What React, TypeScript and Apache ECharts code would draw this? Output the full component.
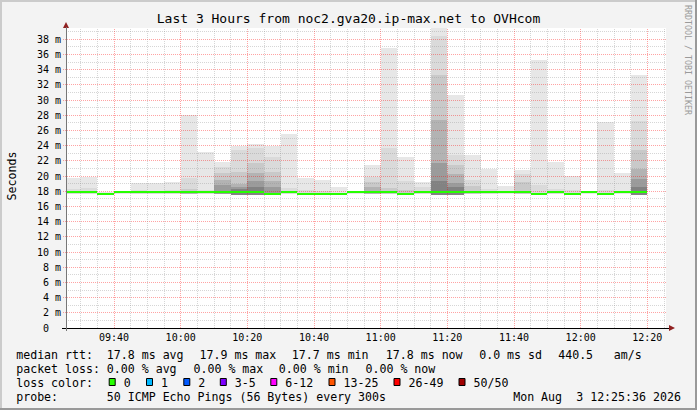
import React, { useEffect, useRef } from 'react';
import * as echarts from 'echarts';

const MONO = 'DejaVu Sans Mono';

const chartTitle = 'Last 3 Hours from noc2.gva20.ip-max.net to OVHcom';
const yAxisName = 'Seconds';
const watermark = 'RRDTOOL / TOBI OETIKER';

const rangeStart = '09:25:36';
const rangeEnd = '12:25:36';
const stepMinutes = 5;
const yMax = 39.5;

const intervalStarts = [
  '09:25', '09:30', '09:35', '09:40', '09:45', '09:50', '09:55',
  '10:00', '10:05', '10:10', '10:15', '10:20', '10:25', '10:30', '10:35', '10:40', '10:45', '10:50', '10:55',
  '11:00', '11:05', '11:10', '11:15', '11:20', '11:25', '11:30', '11:35', '11:40', '11:45', '11:50', '11:55',
  '12:00', '12:05', '12:10', '12:15',
];

const medianRtt = [
  17.85, 17.85, 17.7, 17.85, 17.85, 17.85, 17.85,
  17.85, 17.85, 17.85, 17.9, 17.85, 17.7, 17.85, 17.7, 17.7, 17.7, 17.85, 17.85,
  17.85, 17.7, 17.85, 17.85, 17.85, 17.85, 17.85, 17.85, 17.85, 17.7, 17.85, 17.7,
  17.85, 17.7, 17.85, 17.85,
];

const smokeMin = [
  17.7, 17.7, 17.6, 17.7, 17.7, 17.7, 17.7,
  17.7, 17.7, 17.6, 17.5, 17.5, 17.5, 17.7, 17.6, 17.6, 17.6, 17.7, 17.7,
  17.7, 17.6, 17.7, 17.5, 17.5, 17.7, 17.7, 17.7, 17.7, 17.6, 17.7, 17.6,
  17.7, 17.6, 17.7, 17.5,
];

const smokeMax = [
  19.7, 19.9, 17.9, 18.0, 19.1, 19.1, 19.2,
  28.0, 23.2, 21.8, 23.9, 24.2, 23.9, 25.5, 19.8, 19.5, 18.6, 17.9, 21.4,
  36.9, 22.5, 19.2, 40.5, 30.7, 22.8, 21.0, 18.7, 20.8, 35.3, 21.9, 20.0,
  17.9, 27.1, 20.4, 33.3,
];

const smokeL1 = [
  18.3, 18.4, null, null, 18.2, 18.1, 18.2,
  19.7, 18.2, 21.2, 23.5, 23.7, 22.5, 18.4, 18.2, 18.1, null, null, 19.9,
  23.7, 19.3, 18.5, 38.4, 22.8, 19.5, 18.3, null, 20.3, 18.8, 18.3, 18.2,
  null, 18.2, null, 27.2,
];

const smokeL2 = [
  null, null, null, null, null, null, null,
  18.3, null, 20.4, 20.5, 21.7, 20.5, null, null, null, null, null, 19.2,
  18.4, 18.2, null, 33.3, 21.5, 18.7, null, null, 19.2, null, null, null,
  null, null, null, 23.4,
];

const smokeL3 = [
  null, null, null, null, null, null, null,
  18.1, null, 19.5, 19.0, 20.4, 19.3, null, null, null, null, null, 18.5,
  null, null, null, 27.4, 20.3, null, null, null, null, null, null, null,
  null, null, null, 21.0,
];

const smokeL4 = [
  null, null, null, null, null, null, null,
  null, null, 18.8, 18.6, 19.3, 18.6, null, null, null, null, null, null,
  null, null, null, 21.7, 19.1, null, null, null, null, null, null, null,
  null, null, null, 19.6,
];

const smokeL5 = [
  null, null, null, null, null, null, null,
  null, null, null, 18.3, 18.6, null, null, null, null, null, null, null,
  null, null, null, 19.3, 18.5, null, null, null, null, null, null, null,
  null, null, null, 18.6,
];

const yTickValues = [0, 2, 4, 6, 8, 10, 12, 14, 16, 18, 20, 22, 24, 26, 28, 30, 32, 34, 36, 38];
const xTickLabels = ['09:40', '10:00', '10:20', '10:40', '11:00', '11:20', '11:40', '12:00', '12:20'];

const medianLegend = ['median rtt:', '17.8 ms avg', '17.9 ms max', '17.7 ms min', '17.8 ms now', '0.0 ms sd', '440.5', 'am/s'];
const lossLegend = ['packet loss:', '0.00 % avg', '0.00 % max', '0.00 % min', '0.00 % now'];
const lossTitle = 'loss color:';
const lossLabels = ['0', '1', '2', '3-5', '6-12', '13-25', '26-49', '50/50'];
const lossColors = ['#26ff00', '#00b8ff', '#0059ff', '#7e00ff', '#ff00ff', '#ff5500', '#ff0000', '#a00000'];
const probeLegend = ['probe:', '50 ICMP Echo Pings (56 Bytes) every 300s', 'Mon Aug', '3 12:25:36 2026'];

// layout (pixels)
const W = 697;
const H = 410;
const GRID = { left: 66, top: 28, width: 600, height: 300 };
const medianX = [16.2, 106.8, 199.5, 291.8, 385.8, 479.2, 558.2, 613.8];
const lossX = [16.2, 106.8, 193.5, 278.8, 365.5];
const swatchX = [108.7, 146, 183.3, 219.8, 270.3, 328.5, 393.5, 458.5];
const probeX = [16.2, 106.8, 513.2, 576.2];
const rowY = [354.5, 368.5, 382.5, 396.7];

const smokeShades = ['#e7e7e7', '#dadada', '#c9c9c9', '#b3b3b3', '#9b9b9b', '#828282'];
const LEGEND_FONT = 11.6;

function toMin(s: string): number {
  const p = s.split(':').map(Number);
  return p[0] * 60 + p[1] + (p[2] || 0) / 60;
}

const X_MIN = toMin(rangeStart);
const X_MAX = toMin(rangeEnd);

const dash = (v: number | null) => (v == null ? '-' : v);

function buildOption(): any {
  const smokeData = intervalStarts.map((t, i) => [
    toMin(t), toMin(t) + stepMinutes, smokeMin[i],
    dash(smokeMax[i]), dash(smokeL1[i]), dash(smokeL2[i]), dash(smokeL3[i]), dash(smokeL4[i]), dash(smokeL5[i]),
  ]);
  const medianData = intervalStarts.map((t, i) => [toMin(t), toMin(t) + stepMinutes, medianRtt[i]]);

  const gridLines: number[][] = [];
  for (let v = 1; v < yMax; v += 1) gridLines.push([0, v, v % 2 === 0 ? 1 : 0]);
  for (let t = Math.ceil(X_MIN / stepMinutes) * stepMinutes; t <= X_MAX; t += stepMinutes) {
    gridLines.push([1, t, t % 20 === 0 ? 1 : 0]);
  }

  const xTickValues = xTickLabels.map(toMin);

  const text = (t: string, x: number, y: number, extra: any = {}) => ({
    type: 'text', x, y, silent: true,
    style: {
      text: t, fill: '#000', fontFamily: MONO, fontSize: LEGEND_FONT,
      textAlign: 'left', textVerticalAlign: 'middle', ...extra,
    },
  });

  const graphics: any[] = [];
  // frame
  graphics.push({ type: 'rect', shape: { x: 0, y: 0, width: W, height: 2 }, style: { fill: '#cbcbcb' }, silent: true });
  graphics.push({ type: 'rect', shape: { x: 0, y: 0, width: 2, height: H }, style: { fill: '#cbcbcb' }, silent: true });
  graphics.push({ type: 'rect', shape: { x: W - 2, y: 0, width: 2, height: H }, style: { fill: '#999999' }, silent: true });
  graphics.push({ type: 'rect', shape: { x: 0, y: H - 2, width: W, height: 2 }, style: { fill: '#999999' }, silent: true });
  // title
  graphics.push(text(chartTitle, 348.5, 18.5, { fontSize: 13, textAlign: 'center' }));
  // y name
  graphics.push({ ...text(yAxisName, 11.5, 176, { textAlign: 'center' }), rotation: Math.PI / 2 });
  // watermark
  graphics.push({ ...text(watermark, 688, 60, { textAlign: 'center', fontSize: 8.3, fill: '#9a9a9a' }), rotation: -Math.PI / 2 });
  // arrows
  const ax = GRID.left;
  const ay = GRID.top + GRID.height;
  graphics.push({ type: 'polygon', shape: { points: [[ax - 3, GRID.top], [ax + 3, GRID.top], [ax, GRID.top - 6]] }, style: { fill: '#902020' }, silent: true });
  const rx = GRID.left + GRID.width + 3;
  graphics.push({ type: 'polygon', shape: { points: [[rx, ay - 3], [rx, ay + 3], [rx + 6, ay]] }, style: { fill: '#902020' }, silent: true });
  graphics.push({ type: 'line', shape: { x1: ax - 4, y1: ay + 0.5, x2: rx, y2: ay + 0.5 }, style: { stroke: '#000', lineWidth: 1 }, silent: true, z: 20 });
  graphics.push({ type: 'line', shape: { x1: ax + 0.5, y1: GRID.top - 1, x2: ax + 0.5, y2: ay + 3 }, style: { stroke: '#777', lineWidth: 1 }, silent: true, z: 20 });

  // legend
  medianLegend.forEach((t, i) => graphics.push(text(t, medianX[i], rowY[0])));
  lossLegend.forEach((t, i) => graphics.push(text(t, lossX[i], rowY[1])));
  graphics.push(text(lossTitle, 16.2, rowY[2]));
  lossLabels.forEach((t, i) => {
    graphics.push({ type: 'rect', shape: { x: swatchX[i] + 0.5, y: rowY[2] - 4, width: 6, height: 7 }, style: { fill: lossColors[i], stroke: '#000', lineWidth: 1 }, silent: true });
    graphics.push(text(t, swatchX[i] + 15, rowY[2]));
  });
  probeLegend.forEach((t, i) => graphics.push(text(t, probeX[i], rowY[3])));

  return {
    animation: false,
    backgroundColor: '#f3f3f3',
    grid: { ...GRID, show: true, backgroundColor: '#ffffff', borderWidth: 0, containLabel: false },
    xAxis: {
      type: 'value', min: X_MIN, max: X_MAX, z: 10,
      axisLine: { show: false },
      axisTick: { show: false },
      splitLine: { show: false },
      axisLabel: {
        customValues: xTickValues,
        formatter: (v: number) => {
          const k = xTickValues.findIndex((x) => Math.abs(x - v) < 1e-6);
          return k >= 0 ? xTickLabels[k] : '';
        },
        fontFamily: MONO, fontSize: 10, color: '#000', margin: 4,
      },
    },
    yAxis: {
      type: 'value', min: 0, max: yMax, z: 10,
      axisLine: { show: false },
      axisTick: { show: false },
      splitLine: { show: false },
      axisLabel: {
        customValues: yTickValues,
        formatter: (v: number) => (v === 0 ? '{z|0}' : `${v} m`),
        fontFamily: MONO, fontSize: 10, color: '#000', margin: 5,
        rich: { z: { fontFamily: MONO, fontSize: 10, color: '#000', padding: [0, 12, 0, 0] } },
      },
    },
    series: [
      {
        type: 'custom', coordinateSystem: 'cartesian2d', z: 2, silent: true,
        data: smokeData,
        renderItem: (_p: any, api: any) => {
          const s = Math.max(api.value(0), X_MIN);
          const e = Math.min(api.value(1), X_MAX);
          const lo = api.value(2);
          const children: any[] = [];
          for (let k = 0; k < 6; k++) {
            const top = api.value(3 + k);
            if (top == null || isNaN(top)) continue;
            const a = api.coord([s, Math.min(top, yMax)]);
            const b = api.coord([e, lo]);
            const x0 = Math.round(a[0]);
            const x1 = Math.round(b[0]);
            const y0 = Math.round(a[1]);
            const y1 = Math.round(b[1]);
            children.push({ type: 'rect', shape: { x: x0, y: y0, width: x1 - x0, height: y1 - y0 }, style: { fill: smokeShades[k] } });
          }
          return { type: 'group', children };
        },
      },
      {
        type: 'custom', coordinateSystem: 'cartesian2d', z: 3, silent: true,
        data: gridLines,
        renderItem: (_p: any, api: any) => {
          const o = api.value(0);
          const v = api.value(1);
          const major = api.value(2) === 1;
          const stroke = major ? 'rgba(255,0,0,0.36)' : 'rgba(143,143,143,0.37)';
          if (o === 0) {
            const a = api.coord([X_MIN, v]);
            const b = api.coord([X_MAX, v]);
            const y = Math.floor(a[1]) + 0.5;
            return { type: 'line', shape: { x1: Math.round(a[0]) - (major ? 3 : 0), y1: y, x2: Math.round(b[0]), y2: y }, style: { stroke, lineWidth: 1, lineDash: [1, 1] } };
          }
          const a = api.coord([v, 0]);
          const b = api.coord([v, yMax]);
          const x = Math.floor(a[0]) + 0.5;
          return { type: 'line', shape: { x1: x, y1: Math.round(a[1]), x2: x, y2: Math.round(b[1]) }, style: { stroke, lineWidth: 1, lineDash: [1, 1] } };
        },
      },
      {
        type: 'custom', coordinateSystem: 'cartesian2d', z: 4, silent: true,
        data: medianData,
        renderItem: (_p: any, api: any) => {
          const s = Math.max(api.value(0), X_MIN);
          const a = api.coord([s, api.value(2)]);
          const b = api.coord([api.value(1), api.value(2)]);
          const y = Math.round(a[1]);
          return { type: 'line', shape: { x1: Math.round(a[0]), y1: y, x2: Math.round(b[0]), y2: y }, style: { stroke: lossColors[0], lineWidth: 2 } };
        },
      },
    ],
    graphic: { elements: graphics },
  };
}

export default function App() {
  const ref = useRef<HTMLDivElement>(null);
  useEffect(() => {
    if (!ref.current) return;
    const chart = echarts.init(ref.current, undefined, { renderer: 'svg', width: W, height: H });
    chart.setOption(buildOption());
    return () => chart.dispose();
  }, []);
  return <div ref={ref} style={{ position: 'fixed', left: 0, top: 0, width: W, height: H }} />;
}
